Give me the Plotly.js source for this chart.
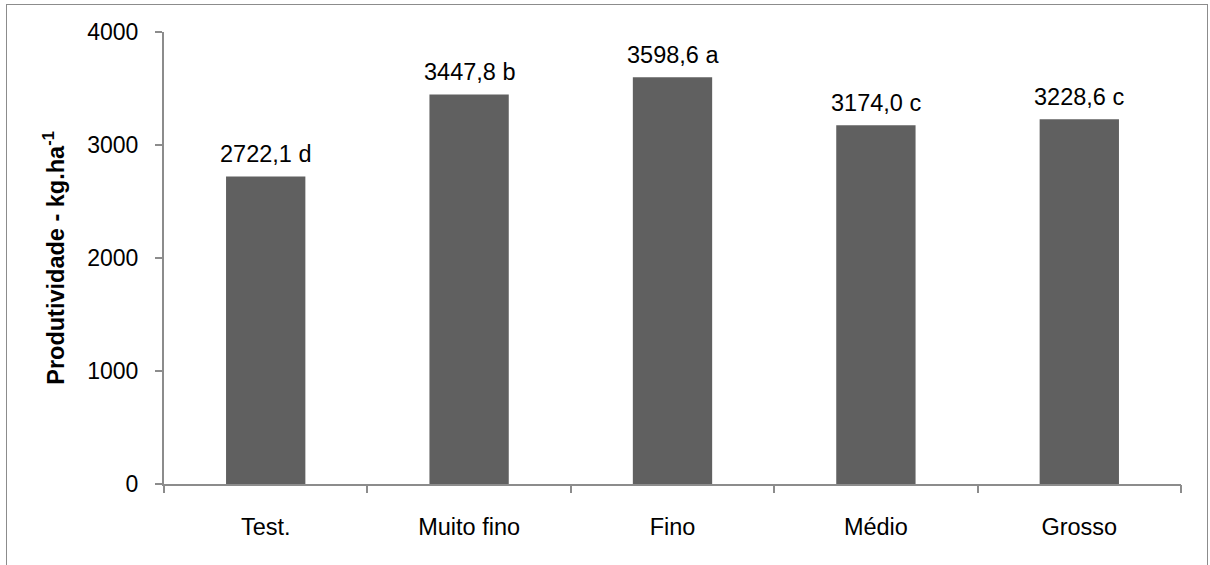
<!DOCTYPE html>
<html>
<head>
<meta charset="utf-8">
<script src="https://cdn.plot.ly/plotly-3.0.1.min.js"></script>
<style>
  html, body { margin: 0; padding: 0; background: #fff; }
  #wrap { position: relative; width: 1210px; height: 565px; overflow: hidden; }
  #chart { width: 1210px; height: 565px; }
  #frame { position: absolute; left: 6px; top: 4px; width: 1202px; height: 600px;
           border: 1px solid #8c8c8c; box-sizing: border-box; pointer-events: none; }
</style>
</head>
<body>
<div id="wrap">
  <div id="chart"></div>
  <div id="frame"></div>
</div>
<script>
const categories = ["Test.", "Muito fino", "Fino", "Médio", "Grosso"];
const values = [2722.1, 3447.8, 3598.6, 3174.0, 3228.6];
const letters = ["d", "b", "a", "c", "c"];
const yTickVals = [0, 1000, 2000, 3000, 4000];
const yTickText = ["0", "1000", "2000", "3000", "4000"];

const fontFam = "Liberation Sans, Arial, sans-serif";
const axisColor = "#8c8c8c";

const labels = values.map((v, i) => v.toFixed(1).replace(".", ",") + " " + letters[i]);

const trace = {
  type: "bar",
  x: categories,
  y: values,
  marker: { color: "#606060", line: { width: 0 } },
  hoverinfo: "skip",
  showlegend: false
};

const annotations = categories.map((c, i) => ({
  x: c, y: values[i], xref: "x", yref: "y",
  text: labels[i], showarrow: false,
  yanchor: "bottom", yshift: 7,
  font: { family: fontFam, size: 23.5, color: "#000" }
}));

const layout = {
  width: 1210, height: 565,
  margin: { l: 164, r: 29, t: 32, b: 81, pad: 0 },
  paper_bgcolor: "#fff", plot_bgcolor: "#fff",
  bargap: 0.61,
  font: { family: fontFam, size: 23.5, color: "#000" },
  xaxis: {
    type: "category",
    showline: true, linecolor: axisColor, linewidth: 2,
    ticks: "", showgrid: false, zeroline: false,
    tickfont: { family: fontFam, size: 23.5, color: "#000" },
    ticklabelstandoff: 21
  },
  yaxis: {
    range: [0, 4000],
    tickvals: yTickVals, ticktext: yTickText,
    showline: true, linecolor: axisColor, linewidth: 2,
    ticks: "outside", ticklen: 7, tickcolor: axisColor, tickwidth: 2,
    showgrid: false, zeroline: false,
    tickfont: { family: fontFam, size: 23, color: "#000" },
    ticklabelstandoff: 12,
    title: { text: "<b>Produtividade - kg.ha<sup>-1</sup></b>", font: { family: fontFam, size: 23.5, color: "#000" }, standoff: 16 }
  },
  xaxis2: {
    overlaying: "x", side: "bottom", anchor: "y",
    range: [-0.5, categories.length - 0.5],
    tickvals: categories.map((c, i) => i - 0.5).concat([categories.length - 0.5]),
    ticktext: categories.map(() => "").concat([""]),
    ticks: "outside", ticklen: 8, tickcolor: axisColor, tickwidth: 2,
    showticklabels: false, showgrid: false, zeroline: false, showline: false
  },
  annotations: annotations
};

const tickTrace = { type: "scatter", x: [0], y: [0], xaxis: "x2", mode: "none", hoverinfo: "skip", showlegend: false };

Plotly.newPlot("chart", [trace, tickTrace], layout, { displayModeBar: false, staticPlot: true });
</script>
</body>
</html>
